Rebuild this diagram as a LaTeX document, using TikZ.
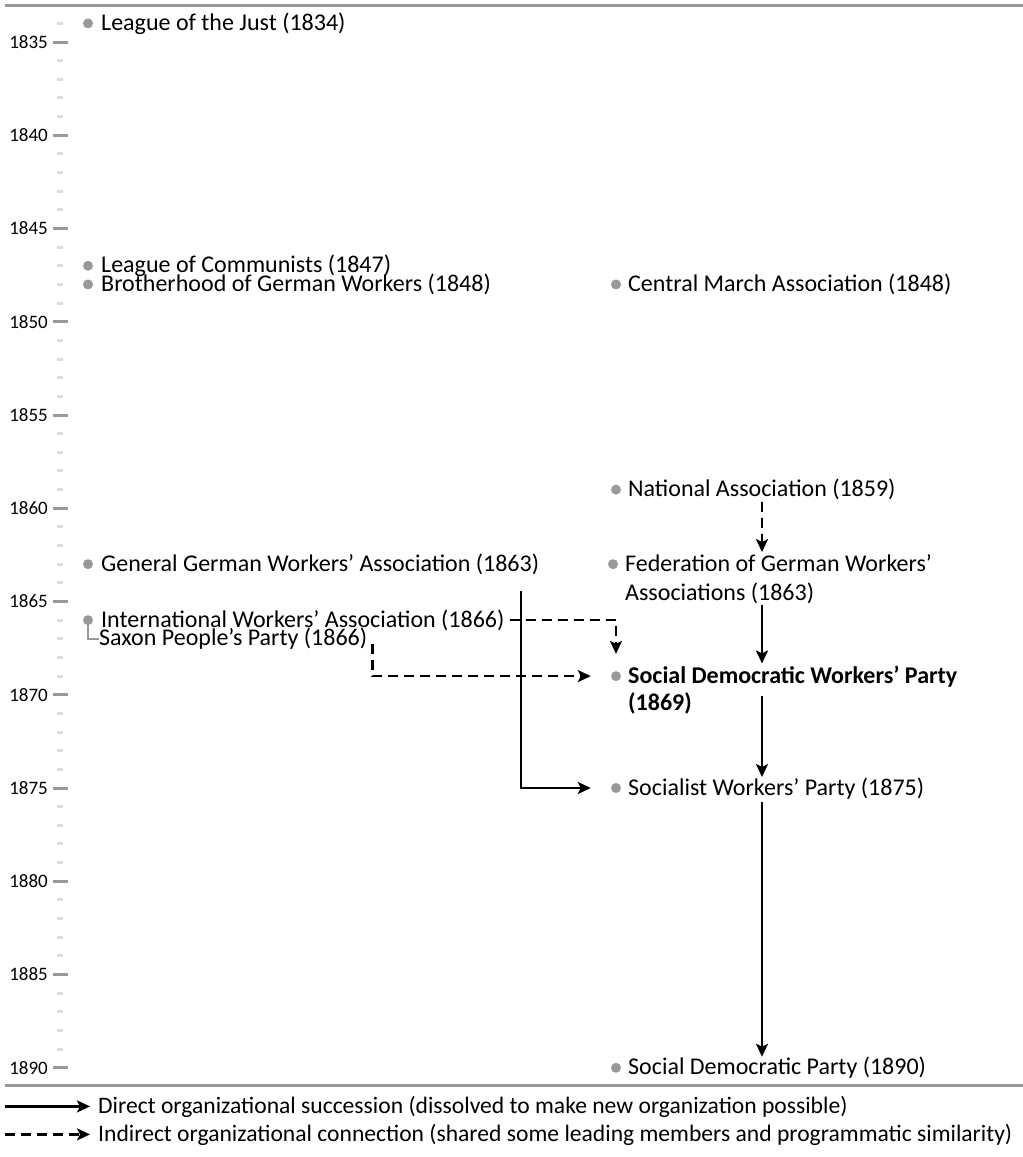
\documentclass[tikz,border=0pt]{standalone}
\usepackage{fontspec}
\setmainfont{Carlito}
\usetikzlibrary{arrows.meta,calc}
\definecolor{tickgray}{HTML}{999999}
\definecolor{minorgray}{HTML}{DDDDDD}
\tikzset{
	org/.style={anchor=base west, inner sep=0pt, align=left, font=\fontsize{24}{29}\selectfont},
	dot/.style={circle, fill=tickgray, inner sep=0pt, minimum size=10pt},
	succ/.style={line width=2.5pt, -{Stealth[length=13pt,width=12pt,inset=3pt]}},
	indir/.style={succ, dash pattern=on 10pt off 6pt},
	yearlabel/.style={anchor=east, inner sep=0pt, font=\fontsize{19}{22}\selectfont},
	rule/.style={tickgray, line width=3pt},
}

\begin{document}
\begin{tikzpicture}[x=1pt, y=-1pt, declare function={yr(\t)=42+(\t-1835)*18.65;}]
	\useasboundingbox (0,0) rectangle (1023,1157);

	% time axis
	\draw[rule] (5,5) -- (1023,5);
	\draw[rule] (5,1085) -- (1023,1085);
	\foreach \t in {1834,...,1890}{
		\pgfmathtruncatemacro\m{mod(\t,5)}
		\ifnum\m=0
			\draw[tickgray, line width=3pt] (53,{yr(\t)}) -- (68,{yr(\t)});
			\node[yearlabel] (y\t) at (48,{yr(\t)}) {\t};
		\else
			\draw[minorgray, line width=3pt] (57,{yr(\t)}) -- (63,{yr(\t)});
		\fi
	}

	% left column
	\node[dot] (ljustd) at (88,{yr(1834)}) {};
	\node[org] (ljust) at (101,{yr(1834)+7}) {League of the Just (1834)};
	\node[dot] (lcommd) at (88,{yr(1847)}) {};
	\node[org] (lcomm) at (101,{yr(1847)+7}) {League of Communists (1847)};
	\node[dot] (brothd) at (88,{yr(1848)}) {};
	\node[org] (broth) at (101,{yr(1848)+7}) {Brotherhood of German Workers (1848)};
	\node[dot] (ggwad) at (88,{yr(1863)}) {};
	\node[org] (ggwa) at (101,{yr(1863)+7}) {General German Workers’ Association (1863)};
	\node[dot] (iwad) at (88,{yr(1866)}) {};
	\node[org] (iwa) at (101,{yr(1866)+7}) {International Workers’ Association (1866)};
	\node[org] (saxon) at (99,{yr(1867)+7}) {Saxon People’s Party (1866)};
	\draw[tickgray, line width=2.5pt] (iwad.center) |- (saxon.west);

	% right column
	\node[dot] (cmad) at (616,{yr(1848)}) {};
	\node[org] (cma) at (628,{yr(1848)+7}) {Central March Association (1848)};
	\node[dot] (natd) at (616,{yr(1859)}) {};
	\node[org] (nat) at (628,{yr(1859)+7}) {National Association (1859)};
	\node[dot] (fedd) at (613,{yr(1863)}) {};
	\node[org] (fed) at (625,{yr(1863)+36}) {Federation of German Workers’\\Associations (1863)};
	\node[dot] (sdwpd) at (616,{yr(1869)}) {};
	\node[org, font=\fontsize{24}{27}\selectfont\bfseries] (sdwp) at (628,{yr(1869)+34}) {Social Democratic Workers’ Party\\(1869)};
	\node[dot] (swpd) at (616,{yr(1875)}) {};
	\node[org] (swp) at (628,{yr(1875)+7}) {Socialist Workers’ Party (1875)};
	\node[dot] (sdpd) at (616,{yr(1890)}) {};
	\node[org] (sdp) at (628,{yr(1890)+7}) {Social Democratic Party (1890)};

	% connections
	\coordinate (spine) at (762,0);
	\coordinate (gx) at (521,0);
	\draw[indir] ([yshift=-5pt]nat.base -| spine) -- ([yshift=2pt]fed.north -| spine);
	\draw[succ] ([yshift=-1pt]fed.south -| spine) -- ([yshift=2pt]sdwp.north -| spine);
	\draw[succ] ([yshift=14pt]sdwp.base -| spine) -- ([yshift=18pt]swp.base -| spine);
	\draw[succ] ([yshift=-7pt]swp.base -| spine) -- ([yshift=18pt]sdp.base -| spine);
	\draw[succ] ([yshift=-20pt]ggwa.base -| gx) |- ([xshift=-20pt]swpd.west);
	\draw[indir, shorten >=17pt] ([xshift=5pt]iwa.east) -| (sdwpd.north);
	\draw[indir, shorten >=20pt] ([xshift=5pt,yshift=-5pt]saxon.east) |- (sdwpd.west);

	% legend
	\node[org, font=\fontsize{23.6}{29}\selectfont] (legdir) at (98,1113) {Direct organizational succession (dissolved to make new organization possible)};
	\node[org, font=\fontsize{23.6}{29}\selectfont] (legind) at (98,1141) {Indirect organizational connection (shared some leading members and programmatic similarity)};
	\draw[succ] ([xshift=-93pt]legdir.west) -- ([xshift=-8pt]legdir.west);
	\draw[indir] ([xshift=-93pt]legind.west) -- ([xshift=-8pt]legind.west);
\end{tikzpicture}
\end{document}
